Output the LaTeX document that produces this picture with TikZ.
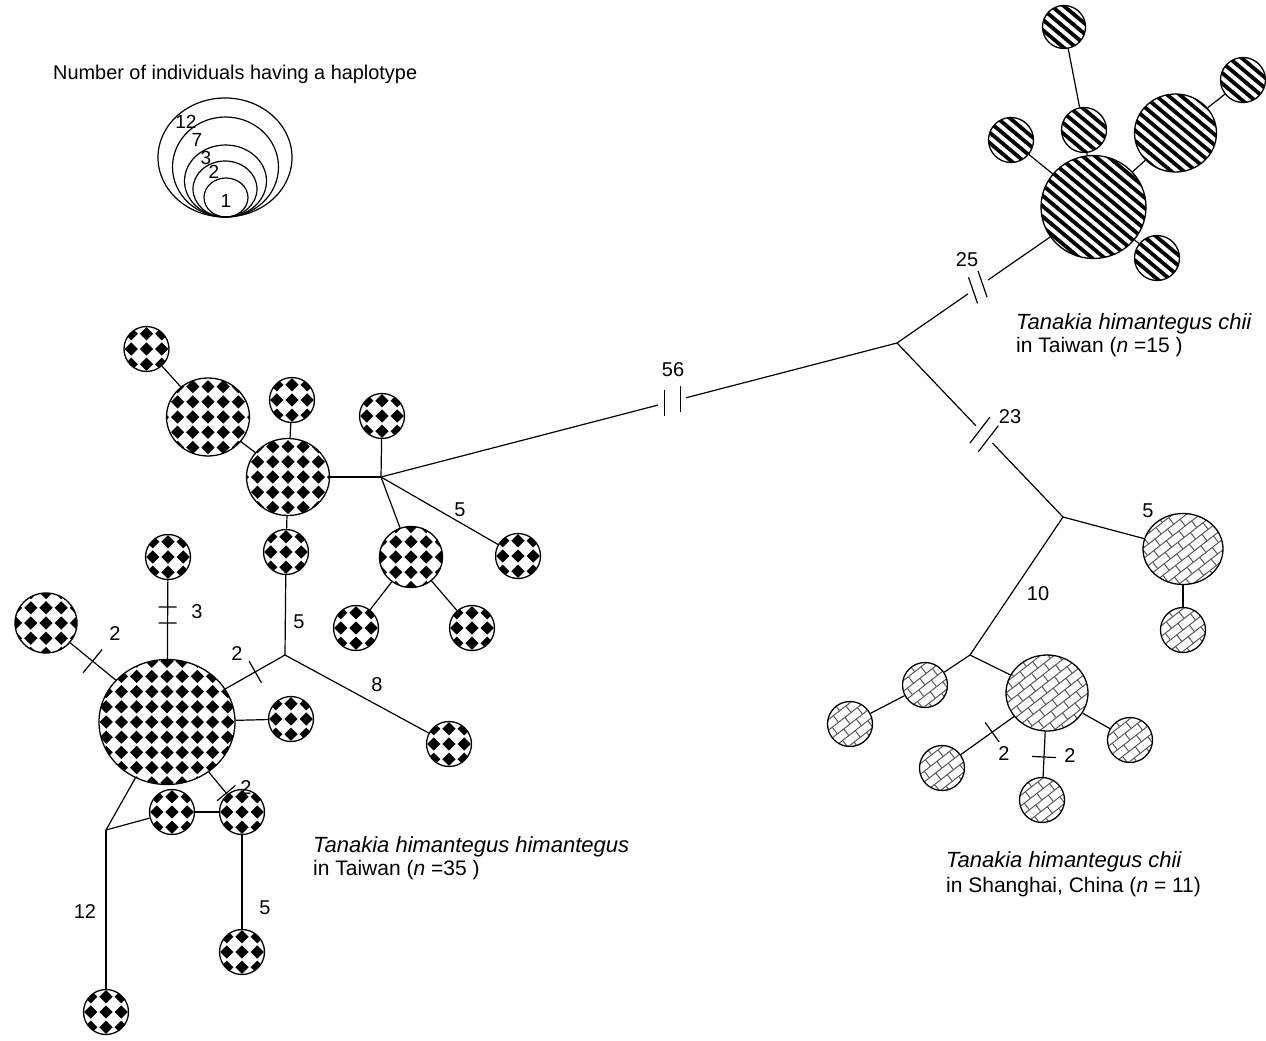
\documentclass[tikz,border=0pt]{standalone}
\usepackage{fontspec}
\setmainfont{Liberation Sans}
\usetikzlibrary{shapes.geometric,calc}

\newcommand\checkfill{\foreach \i in {-5,...,5}{\foreach \j in {-5,...,5}{\fill[black] ([shift={(\i*15.2pt,\j*15.2pt)}]path picture bounding box.center) +(-6.6pt,0pt) -- +(0pt,6.6pt) -- +(6.6pt,0pt) -- +(0pt,-6.6pt) -- cycle;}}}
\newcommand\stripefill{\foreach \k in {-8,...,8}{\draw[black,line width=3.8pt] ([shift={(50:\k*8pt)}]path picture bounding box.center) +(140:64pt) -- +(-40:64pt);}}
\newcommand\brickfill{\foreach \k in {-7,...,7}{\draw[line width=1pt,black!65] ([shift={(128:\k*8.4pt)}]path picture bounding box.center) +(218:64pt) -- +(38:64pt);\pgfmathsetmacro\boff{mod(abs(\k),2)*8}\foreach \m in {-4,...,4}{\draw[line width=1pt,black!65] ([shift={(128:\k*8.4pt)}]path picture bounding box.center) ++(38:\m*16pt+\boff*1pt) -- ++(128:8.4pt);}}}

\tikzset{
  hap/.style={ellipse, draw, line width=1.3pt, inner sep=0pt, fill=white},
  leg/.style={ellipse, draw, line width=1.2pt, inner sep=0pt},
  chk/.style 2 args={hap, minimum width=#1pt, minimum height=#2pt, path picture={\checkfill}},
  stp/.style 2 args={hap, minimum width=#1pt, minimum height=#2pt, path picture={\stripefill}},
  brk/.style 2 args={hap, minimum width=#1pt, minimum height=#2pt, path picture={\brickfill}},
  con/.style={line width=1.2pt},
  num/.style={font=\fontsize{20}{24}\selectfont, inner sep=0pt},
  lab/.style={font=\fontsize{21}{25}\selectfont, inner sep=0pt, anchor=base west},
  labi/.style={font=\fontsize{22}{26}\selectfont\itshape, inner sep=0pt, anchor=base west},
}

\begin{document}
\begin{tikzpicture}[x=1pt,y=-1pt]
\useasboundingbox (0,0) rectangle (1266,1041);

% ---------- legend ----------
\node[lab, font=\fontsize{19.9}{23}\selectfont] (legtitle) at (53,80) {Number of individuals having a haplotype};
\node[leg, minimum width=134pt, minimum height=119pt] (lg12) at (225,157.5) {};
\node[leg, minimum width=106pt, minimum height=100pt] (lg7) at (225.5,167) {};
\node[leg, minimum width=82pt, minimum height=72pt] (lg3) at (225.5,181) {};
\node[leg, minimum width=64pt, minimum height=56pt] (lg2) at (225,189) {};
\node[leg, minimum width=44pt, minimum height=39pt] (lg1) at (226,197.5) {};
\node[num, font=\fontsize{19}{22}\selectfont] (ln12) at (186,122) {12};
\node[num, font=\fontsize{19}{22}\selectfont] (ln7) at (197,140) {7};
\node[num, font=\fontsize{19}{22}\selectfont] (ln3) at (206,158) {3};
\node[num, font=\fontsize{19}{22}\selectfont] (ln2) at (214,172) {2};
\node[num, font=\fontsize{19}{22}\selectfont] (ln1) at (226,201) {1};

% ---------- junctions ----------
\coordinate (hub1) at (381,477);
\coordinate (jJ) at (285,655);
\coordinate (jR) at (106,830);
\coordinate (jX) at (897,343);
\coordinate (jY) at (1063,517);
\coordinate (jZ) at (970,655);

% ---------- checkered haplotypes ----------
\node[chk={45}{45}] (cA) at (146.5,349) {};
\node[chk={83}{78}] (cB) at (208,417) {};
\node[chk={45}{45}] (cC) at (292,400) {};
\node[chk={83}{77}] (cD) at (288,477) {};
\node[chk={45}{45}] (cE) at (382,416) {};
\node[chk={63}{61}] (cF) at (411,557) {};
\node[chk={45}{45}] (cG) at (518,556) {};
\node[chk={45}{45}] (cH1) at (356,628) {};
\node[chk={45}{45}] (cH2) at (472,628) {};
\node[chk={45}{45}] (cI) at (286,552) {};
\node[chk={45}{45}] (cK) at (449,744) {};
\node[chk={136}{125}] (cL) at (167,722) {};
\node[chk={45}{45}] (cM) at (168,557) {};
\node[chk={62}{60}] (cN) at (46,623) {};
\node[chk={45}{45}] (cO) at (291,719) {};
\node[chk={45}{45}] (cP) at (242,812) {};
\node[chk={45}{45}] (cQ) at (172,812) {};
\node[chk={45}{45}] (cS) at (106,1012) {};
\node[chk={45}{45}] (cT) at (242,952) {};

% ---------- striped haplotypes ----------
\node[stp={105}{103}] (sBig) at (1093.5,207) {};
\node[stp={82}{78}] (sM) at (1175.5,133) {};
\node[stp={45}{45}] (sR) at (1243,80) {};
\node[stp={45}{45}] (sU) at (1084,130) {};
\node[stp={43}{43}] (sT) at (1064,27) {};
\node[stp={45}{45}] (sL) at (1011,140) {};
\node[stp={45}{45}] (sD) at (1157,258) {};

% ---------- brick haplotypes ----------
\node[brk={80}{71}] (bU) at (1183,549) {};
\node[brk={45}{45}] (bU2) at (1183,630) {};
\node[brk={82}{76}] (bBB) at (1047,693) {};
\node[brk={45}{45}] (bV) at (925,685) {};
\node[brk={45}{45}] (bW) at (850,724) {};
\node[brk={45}{45}] (bO) at (1130,740) {};
\node[brk={45}{45}] (bX) at (942,768) {};
\node[brk={45}{45}] (bY) at (1042,800) {};

% ---------- connectors: Taiwan himantegus ----------
\draw[con] (cA) -- (cB);
\draw[con] (cB) -- (cD);
\draw[con] (cC) -- (cD);
\draw[con] (cD) -- (hub1);
\draw[con] (cE) -- (hub1);
\draw[con] (hub1) -- (cF);
\draw[con] (hub1) -- (cG);
\draw[con] (cF) -- (cH1);
\draw[con] (cF) -- (cH2);
\draw[con] (cD) -- (cI);
\draw[con] (cI) -- (jJ);
\draw[con] (jJ) -- (cK);
\draw[con] (jJ) -- (cL);
\draw[con] (cM) -- (cL);
\draw[con] (cN) -- (cL);
\draw[con] (cL) -- (cO);
\draw[con] (cL) -- (cP);
\draw[con] (cL) -- (jR);
\draw[con] (jR) -- (cQ);
\draw[con] (cQ) -- (cP);
\draw[con] (jR) -- (cS);
\draw[con] (cP) -- (cT);

% tick marks
\coordinate (tN) at ($(cN)!(96,657)!(cL)$);
\draw[con] ($(tN)!15pt!90:(cL)$) -- ($(tN)!15pt!-90:(cL)$);
\coordinate (tJ) at ($(jJ)!(257,675)!(cL)$);
\draw[con] ($(tJ)!12.5pt!90:(cL)$) -- ($(tJ)!12.5pt!-90:(cL)$);
\coordinate (tP) at ($(cL)!(224,795)!(cP)$);
\draw[con] ($(tP)!12pt!90:(cP)$) -- ($(tP)!12pt!-90:(cP)$);
\coordinate (tM1) at ($(cM)!(168,607)!(cL)$);
\draw[con] ($(tM1)!9pt!90:(cL)$) -- ($(tM1)!9pt!-90:(cL)$);
\coordinate (tM2) at ($(cM)!(168,623)!(cL)$);
\draw[con] ($(tM2)!9pt!90:(cL)$) -- ($(tM2)!9pt!-90:(cL)$);

% ---------- long branches with breaks ----------
\draw[con] (hub1) -- ($(hub1)!0.537!(jX)$);
\draw[con] ($(hub1)!0.591!(jX)$) -- (jX);
\draw[con] ($(hub1)!0.550!(jX)$) +(0,-13) -- +(0,13);
\draw[con] ($(hub1)!0.581!(jX)$) +(0,-13) -- +(0,13);

\draw[con] (jX) -- ($(jX)!0.361!(sBig.center)$);
\draw[con] ($(jX)!0.463!(sBig.center)$) -- (sBig);
\draw[con] ($(jX)!0.387!(sBig.center)$) +(-4.5,-13) -- +(4.5,13);
\draw[con] ($(jX)!0.435!(sBig.center)$) +(-4.5,-13) -- +(4.5,13);

\draw[con] (jX) -- ($(jX)!0.475!(jY)$);
\draw[con] ($(jX)!0.575!(jY)$) -- (jY);
\draw[con] ($(jX)!0.50!(jY)$) +(-10,13) -- +(10,-13);
\draw[con] ($(jX)!0.55!(jY)$) +(-10,13) -- +(10,-13);

% ---------- striped cluster ----------
\draw[con] (sBig) -- (sU);
\draw[con] (sU) -- (sT);
\draw[con] (sBig) -- (sL);
\draw[con] (sBig) -- (sM);
\draw[con] (sM) -- (sR);
\draw[con] (sBig) -- (sD);

% ---------- brick cluster ----------
\draw[con] (jY) -- (bU);
\draw[con] (bU) -- (bU2);
\draw[con] (jY) -- (jZ);
\draw[con] (jZ) -- (bV);
\draw[con] (bV) -- (bW);
\draw[con] (jZ) -- (bBB);
\draw[con] (bBB) -- (bO);
\draw[con] (bBB) -- (bX);
\draw[con] (bBB) -- (bY);
\coordinate (tX) at ($(bBB)!(992,732)!(bX)$);
\draw[con] ($(tX)!12pt!90:(bX)$) -- ($(tX)!12pt!-90:(bX)$);
\coordinate (tY) at ($(bBB)!(1044,757)!(bY)$);
\draw[con] ($(tY)!12pt!90:(bY)$) -- ($(tY)!12pt!-90:(bY)$);

% ---------- numbers ----------
\node[num] (l56) at (673,370) {56};
\node[num] (l25) at (967,260) {25};
\node[num] (l23) at (1010,417) {23};
\node[num] (l5a) at (460,510) {5};
\node[num] (l5b) at (299,622) {5};
\node[num] (l8) at (377,685) {8};
\node[num] (l3) at (197,612) {3};
\node[num] (l2a) at (115,634) {2};
\node[num] (l2b) at (237,654) {2};
\node[num] (l2c) at (246,788) {2};
\node[num] (l12) at (85,912) {12};
\node[num] (l5c) at (265,908) {5};
\node[num] (l5d) at (1148,511) {5};
\node[num] (l10) at (1038,594) {10};
\node[num] (l2d) at (1004,754) {2};
\node[num] (l2e) at (1070,756) {2};

% ---------- group labels ----------
\node[labi] (gT1) at (1016,329) {Tanakia himantegus chii};
\node[lab] (gT2) at (1016,352) {in Taiwan (\textit{n} =15 )};
\node[labi] (gH1) at (313,852) {Tanakia himantegus himantegus};
\node[lab] (gH2) at (313,875) {in Taiwan (\textit{n} =35 )};
\node[labi] (gS1) at (946,867) {Tanakia himantegus chii};
\node[lab] (gS2) at (946,892) {in Shanghai, China (\textit{n} = 11)};
\end{tikzpicture}
\end{document}
